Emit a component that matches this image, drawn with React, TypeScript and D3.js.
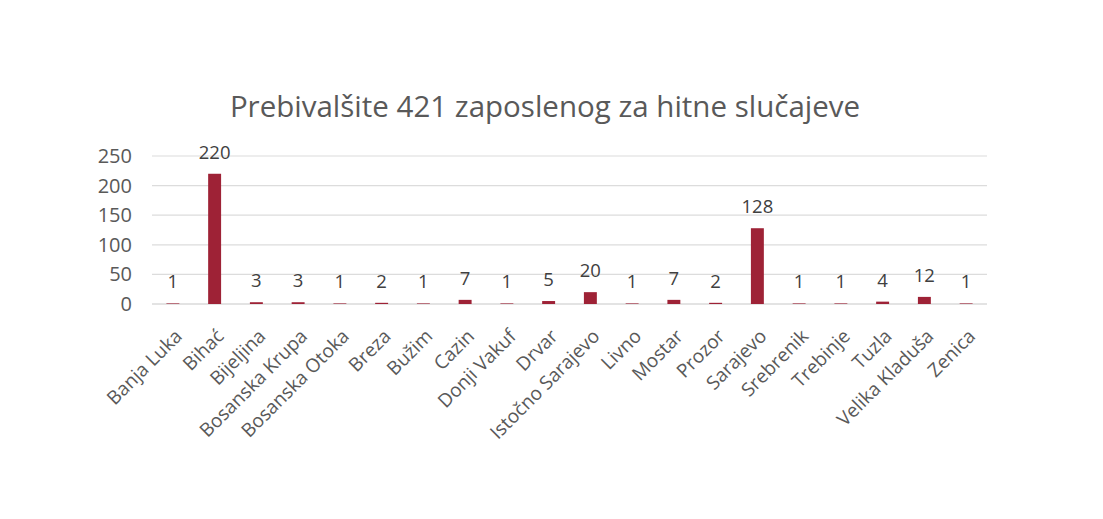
import React from "react";
import * as d3 from "d3";

const categories = [
  "Banja Luka", "Bihać", "Bijeljina", "Bosanska Krupa", "Bosanska Otoka",
  "Breza", "Bužim", "Cazin", "Donji Vakuf", "Drvar", "Istočno Sarajevo",
  "Livno", "Mostar", "Prozor", "Sarajevo", "Srebrenik", "Trebinje", "Tuzla",
  "Velika Kladuša", "Zenica",
];
const values = [1, 220, 3, 3, 1, 2, 1, 7, 1, 5, 20, 1, 7, 2, 128, 1, 1, 4, 12, 1];
const yTicks = [0, 50, 100, 150, 200, 250];
const title = "Prebivalšite 421 zaposlenog za hitne slučajeve";

const W = 1103;
const H = 519;
const left = 152;
const right = 987;
const top = 156;
const bottom = 304;
const FONT = "'Open Sans', sans-serif";
const TEXT = "#595959";
const BAR = "#9E2236";

export default function App() {
  const x = d3.scaleBand<string>().domain(categories).range([left, right]).paddingInner(0.69).paddingOuter(0.345);
  const y = d3.scaleLinear().domain([0, 250]).range([bottom, top]);
  const bw = x.bandwidth();

  return (
    <svg
      width={W}
      height={H}
      style={{ position: "absolute", left: 0, top: 0, background: "#fff" }}
      fontFamily={FONT}
    >
      <text x={545} y={117} textAnchor="middle" fontSize={29.5} fill={TEXT}>
        {title}
      </text>
      {yTicks.map((t) => (
        <g key={t}>
          <line
            x1={left}
            x2={right}
            y1={y(t)}
            y2={y(t)}
            stroke={t === 0 ? "#c8c8c8" : "#dcdcdc"}
            strokeWidth={1.2}
          />
          <text x={132} y={y(t)} dy="0.35em" textAnchor="end" fontSize={20} fill={TEXT}>
            {t}
          </text>
        </g>
      ))}
      {categories.map((c, i) => {
        const cx = (x(c) as number) + bw / 2;
        const v = values[i];
        return (
          <g key={c}>
            <rect x={x(c) as number} y={y(v)} width={bw} height={bottom - y(v)} fill={BAR} />
            <text x={cx} y={y(v) - 15} textAnchor="middle" fontSize={18.5} fill="#404040">
              {v}
            </text>
            <text
              transform={`translate(${cx + 1},${bottom + 24}) rotate(-45)`}
              textAnchor="end"
              dy="0.7em"
              fontSize={19}
              fill={TEXT}
            >
              {c}
            </text>
          </g>
        );
      })}
    </svg>
  );
}
